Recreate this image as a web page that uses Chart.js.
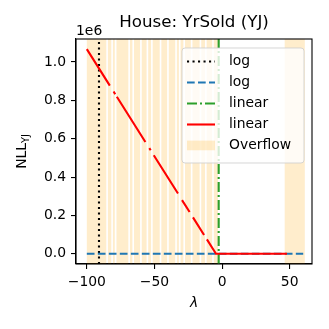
<!DOCTYPE html>
<html>
<head>
<meta charset="utf-8">
<script src="https://cdn.jsdelivr.net/npm/chart.js@4/dist/chart.umd.min.js"></script>
<style>
  html, body { margin: 0; padding: 0; background: #fff; }
  canvas { display: block; }
</style>
</head>
<body>
<canvas id="chart" width="329" height="329"></canvas>
<script>
// values (y in raw NLL units, axis shows x1e6)
const titleText = 'House: YrSold (YJ)';
const legendLabels = ['log', 'log', 'linear', 'linear', 'Overflow'];

const logLambda = -91;      // black dotted vertical
const linearLambda = -2.5;  // green dash-dot vertical

const blueLam = [-100, 60];
const blueNll = [0, 0];

// red curve, broken where the NLL could not be evaluated
const redLam = [-100, -83, null, -80.2, -79, null, -77.8, -56.7, null, -53.8, -52.8, null,
  -50.5, -32.6, null, -29.6, -24, null, -21.5, -13.3, null, -11.2, -4.5, 48];
const redNll = [1.067e6, 0.877e6, null, 0.846e6, 0.832e6, null, 0.819e6, 0.583e6, null,
  0.551e6, 0.540e6, null, 0.514e6, 0.314e6, null, 0.280e6, 0.218e6, null,
  0.190e6, 0.098e6, null, 0.075e6, 0, 0];

// overflow regions (lambda intervals)
const overflowStart = [-100, -84.4, -80.7, -78.1, -68.1, -65.1, -59.4, -54.6, -51.3, -44.9,
  -39.4, -33.4, -30.7, -27.4, -21.9, -15.4, -11.4, -6.1, 46.3];
const overflowEnd = [-85.6, -81.9, -79.3, -69.3, -66.3, -60.6, -55.8, -52.5, -46.1, -40.6,
  -34.6, -31.9, -28.6, -23.1, -16.6, -12.6, -7.3, -3, 61.2];

const xTicks = [-100, -50, 0, 50];
const yTicks = [0, 0.2e6, 0.4e6, 0.6e6, 0.8e6, 1.0e6];
const xMin = -108, xMax = 66.5;
const yMin = -0.0533e6, yMax = 1.12e6;

const FONT = '"DejaVu Sans", sans-serif';
const overflowColor = 'rgba(255,165,0,0.2)';

const toPts = (xs, ys) => xs.map((x, i) => (x === null ? { x: NaN, y: null } : { x: x, y: ys[i] }));
const minus = s => String(s).replace('-', '\u2212');

const overflowPlugin = {
  id: 'overflow',
  beforeDatasetsDraw(chart) {
    const { ctx, chartArea: a, scales: { x } } = chart;
    ctx.save();
    ctx.beginPath();
    ctx.rect(a.left, a.top, a.right - a.left, a.bottom - a.top);
    ctx.clip();
    ctx.fillStyle = overflowColor;
    overflowStart.forEach((s, i) => {
      const x0 = x.getPixelForValue(s);
      const x1 = x.getPixelForValue(overflowEnd[i]);
      ctx.fillRect(x0, a.top, x1 - x0, a.bottom - a.top);
    });
    ctx.restore();
  }
};

const decorPlugin = {
  id: 'decor',
  afterDraw(chart) {
    const { ctx, chartArea: a } = chart;
    ctx.save();
    // spines
    ctx.strokeStyle = '#000';
    ctx.lineWidth = 1.1;
    ctx.strokeRect(a.left, a.top, a.right - a.left, a.bottom - a.top);

    ctx.fillStyle = '#000';
    // title
    ctx.font = '16.7px ' + FONT;
    ctx.textAlign = 'center';
    ctx.textBaseline = 'alphabetic';
    ctx.fillText(titleText, (a.left + a.right) / 2, 27);

    // offset text
    ctx.font = '13.9px ' + FONT;
    ctx.textAlign = 'left';
    ctx.fillText('1e6', a.left, 35);

    // x label
    ctx.font = 'italic 13.9px ' + FONT;
    ctx.textAlign = 'center';
    ctx.fillText('\u03bb', (a.left + a.right) / 2, 307);

    // y label NLL_YJ
    ctx.save();
    ctx.translate(21, (a.top + a.bottom) / 2);
    ctx.rotate(-Math.PI / 2);
    ctx.font = '13.9px ' + FONT;
    const w1 = ctx.measureText('NLL').width;
    ctx.font = '9.7px ' + FONT;
    const w2 = ctx.measureText('YJ').width;
    const x0 = -(w1 + w2) / 2;
    ctx.textAlign = 'left';
    ctx.font = '13.9px ' + FONT;
    ctx.fillText('NLL', x0, 5);
    ctx.font = '9.7px ' + FONT;
    ctx.fillText('YJ', x0 + w1, 8);
    ctx.restore();

    // legend
    const lx = 182, ly = 48, lw = 122, lh = 115, r = 3;
    ctx.beginPath();
    ctx.moveTo(lx + r, ly);
    ctx.arcTo(lx + lw, ly, lx + lw, ly + lh, r);
    ctx.arcTo(lx + lw, ly + lh, lx, ly + lh, r);
    ctx.arcTo(lx, ly + lh, lx, ly, r);
    ctx.arcTo(lx, ly, lx + lw, ly, r);
    ctx.closePath();
    ctx.fillStyle = 'rgba(255,255,255,0.8)';
    ctx.fill();
    ctx.strokeStyle = 'rgba(204,204,204,0.8)';
    ctx.lineWidth = 1;
    ctx.stroke();

    const ds = chart.data.datasets;
    const styles = [ds[3], ds[2], ds[1], ds[0]];
    legendLabels.forEach((lab, i) => {
      const cy = 61.5 + i * 21;
      if (i < 4) {
        const d = styles[i];
        ctx.beginPath();
        ctx.setLineDash(d.borderDash || []);
        ctx.strokeStyle = d.borderColor;
        ctx.lineWidth = d.borderWidth;
        ctx.moveTo(187, cy);
        ctx.lineTo(215, cy);
        ctx.stroke();
        ctx.setLineDash([]);
      } else {
        ctx.fillStyle = overflowColor;
        ctx.fillRect(187, cy - 4.9, 28, 9.7);
      }
      ctx.fillStyle = '#000';
      ctx.font = '13.9px ' + FONT;
      ctx.textAlign = 'left';
      ctx.textBaseline = 'middle';
      ctx.fillText(lab, 229, cy);
    });
    ctx.restore();
  }
};

new Chart(document.getElementById('chart'), {
  type: 'line',
  data: {
    datasets: [
      {
        label: 'linear',
        data: toPts(redLam, redNll),
        borderColor: '#ff0000',
        borderWidth: 2.1,
        spanGaps: false,
        order: 1
      },
      {
        label: 'linear',
        data: [{ x: linearLambda, y: yMin }, { x: linearLambda, y: yMax }],
        borderColor: '#2ca02c',
        borderWidth: 2.1,
        borderDash: [10, 3, 2, 3],
        order: 2
      },
      {
        label: 'log',
        data: toPts(blueLam, blueNll),
        borderColor: '#1f77b4',
        borderWidth: 2.1,
        borderDash: [7.7, 3.3],
        order: 3
      },
      {
        label: 'log',
        data: [{ x: logLambda, y: yMin }, { x: logLambda, y: yMax }],
        borderColor: '#000000',
        borderWidth: 2.1,
        borderDash: [2.1, 3.4],
        order: 4
      }
    ]
  },
  options: {
    responsive: false,
    animation: false,
    layout: { padding: { left: 0, top: 39, right: 17, bottom: 0 } },
    elements: { point: { radius: 0 }, line: { tension: 0, borderCapStyle: 'butt' } },
    plugins: { legend: { display: false }, tooltip: { enabled: false }, title: { display: false } },
    scales: {
      x: {
        type: 'linear',
        min: xMin,
        max: xMax,
        afterBuildTicks: s => { s.ticks = xTicks.map(v => ({ value: v })); },
        afterFit: s => { s.height = 65; },
        grid: { drawOnChartArea: false, color: '#000', tickLength: 5, lineWidth: 1.1 },
        border: { display: true, color: '#000', width: 1.1 },
        ticks: {
          color: '#000',
          padding: 5,
          maxRotation: 0,
          font: { family: FONT, size: 13.9 },
          callback: v => minus(v)
        }
      },
      y: {
        type: 'linear',
        min: yMin,
        max: yMax,
        afterBuildTicks: s => { s.ticks = yTicks.map(v => ({ value: v })); },
        afterFit: s => { s.width = 76; },
        grid: { drawOnChartArea: false, color: '#000', tickLength: 5, lineWidth: 1.1 },
        border: { display: true, color: '#000', width: 1.1 },
        ticks: {
          color: '#000',
          padding: 5,
          font: { family: FONT, size: 13.9 },
          callback: v => (v / 1e6).toFixed(1)
        }
      }
    }
  },
  plugins: [overflowPlugin, decorPlugin]
});
</script>
</body>
</html>
